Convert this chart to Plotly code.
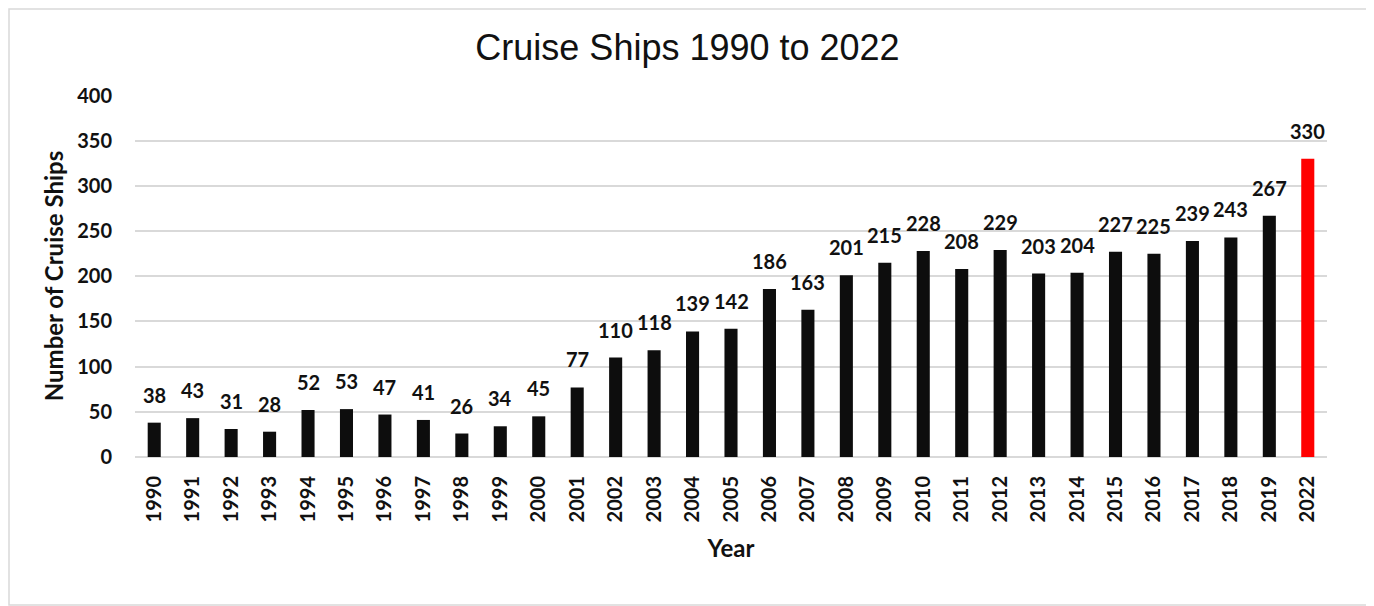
import plotly.graph_objects as go

years = ["1990","1991","1992","1993","1994","1995","1996","1997","1998","1999","2000",
         "2001","2002","2003","2004","2005","2006","2007","2008","2009","2010","2011",
         "2012","2013","2014","2015","2016","2017","2018","2019","2022"]
ships = [38,43,31,28,52,53,47,41,26,34,45,77,110,118,139,142,186,163,201,215,228,208,
         229,203,204,227,225,239,243,267,330]
colors = ["#0d0d0d"] * (len(years) - 1) + ["#ff0000"]

W, H = 1374, 606
L, R, T, B = 127, 55, 87, 157
pw, ph = W - L - R, H - T - B
FONT = "Lato"
TXT = "#111111"

def px_x(p):
    return (p - L) / pw

def px_y(p):
    return (H - B - p) / ph

fig = go.Figure(go.Bar(
    x=years, y=ships, marker=dict(color=colors, line=dict(width=0)),
    width=0.34, hoverinfo="x+y",
))

annotations = [
    dict(x=i, y=v, xref="x", yref="y", text=str(v), showarrow=False,
         yanchor="bottom", yshift=14,
         font=dict(family=FONT, size=20, color=TXT, weight="bold"))
    for i, v in enumerate(ships)
]

fig.update_layout(
    width=W, height=H, margin=dict(l=L, r=R, t=T, b=B),
    paper_bgcolor="white", plot_bgcolor="white",
    showlegend=False,
    title=dict(text="Cruise Ships 1990 to 2022", x=679.5 / W, xanchor="center",
               y=1 - 39 / H, yanchor="middle",
               font=dict(family="Liberation Sans", size=36, color=TXT)),
    xaxis=dict(type="category", tickangle=-90, showgrid=False, ticks="",
               ticklabelstandoff=14, range=[-0.5, len(years) - 0.5],
               tickfont=dict(family=FONT, size=20, color=TXT, weight="bold"),
               title=dict(text="Year", standoff=18,
                          font=dict(family=FONT, size=24, color=TXT, weight="bold")),
               showline=False, zeroline=False),
    yaxis=dict(range=[0, 400.6], dtick=50, showgrid=True, gridcolor="#d9d9d9", gridwidth=1.5,
               zeroline=True, zerolinecolor="#d9d9d9", zerolinewidth=1.5, ticks="",
               ticklabelstandoff=22,
               tickfont=dict(family=FONT, size=20, color=TXT, weight="bold"),
               title=dict(text="Number of Cruise Ships", standoff=6,
                          font=dict(family=FONT, size=24, color=TXT, weight="bold"))),
    annotations=annotations,
    shapes=[dict(type="rect", xref="paper", yref="paper",
                 x0=px_x(1), x1=px_x(1361), y0=px_y(597), y1=px_y(1),
                 line=dict(color="#d9d9d9", width=1.5), fillcolor="rgba(0,0,0,0)", layer="below")],
)

fig.write_html("out.html")
